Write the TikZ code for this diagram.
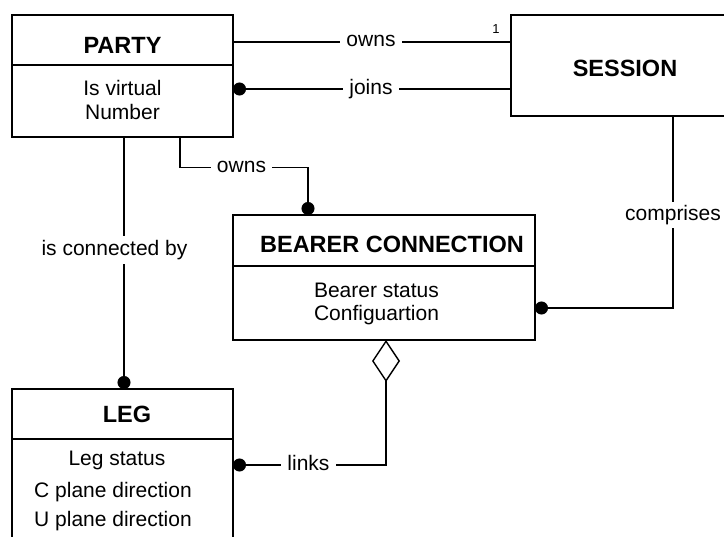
\documentclass[tikz,border=0pt]{standalone}
\usepackage{fontspec}
\setmainfont{Liberation Sans}
\usetikzlibrary{arrows.meta}
\begin{document}
\begin{tikzpicture}[x=1pt,y=-1pt,
  box/.style={draw, line width=1.5pt, inner sep=0pt, outer sep=0pt, anchor=north west},
  boxline/.style={line width=1.5pt},
  conn/.style={line width=1.4pt},
  dotend/.style={-{Circle[length=13pt,width=13pt]}},
  dotstart/.style={{Circle[length=13pt,width=13pt]}-},
  title/.style={anchor=base, inner sep=0pt, font=\fontsize{23.5pt}{27pt}\selectfont\bfseries},
  attr/.style={anchor=base, inner sep=0pt, font=\fontsize{21pt}{25pt}\selectfont},
  lbl/.style={anchor=base, fill=white, inner xsep=6pt, inner ysep=3pt, font=\fontsize{21pt}{25pt}\selectfont},
  mult/.style={anchor=base, inner sep=0pt, font=\fontsize{13pt}{15pt}\selectfont}
]
\path[use as bounding box] (0,0) rectangle (724,537);
\fill[white] (0,0) rectangle (724,537);
\clip (0,0) rectangle (724,537);

% boxes
\node[box, minimum width=221pt, minimum height=122pt] (party) at (12,15) {};
\node[box, minimum width=240pt, minimum height=101pt] (session) at (511,15) {};
\node[box, minimum width=302pt, minimum height=125pt] (bearer) at (233,215) {};
\node[box, minimum width=221pt, minimum height=170pt] (leg) at (12,389) {};

% dividers
\draw[boxline] (party.west |- 0,65) -- (party.east |- 0,65);
\draw[boxline] (bearer.west |- 0,266) -- (bearer.east |- 0,266);
\draw[boxline] (leg.west |- 0,439) -- (leg.east |- 0,439);

% texts
\node[title] (partyT) at (122.5,53.3) {PARTY};
\node[attr] (partyA) at (122.5,95.7) {Is virtual};
\node[attr] (partyB) at (122.5,119.3) {Number};
\node[title] (sessionT) at (625,76.7) {SESSION};
\node[title] (bearerT) at (392,252.7) {BEARER CONNECTION};
\node[attr] (bearerA) at (376.5,298) {Bearer status};
\node[attr] (bearerB) at (376.5,321) {Configuartion};
\node[title] (legT) at (127,422.7) {LEG};
\node[attr] (legA) at (117,466) {Leg status};
\node[attr] (legB) at (113,497.7) {C plane direction};
\node[attr] (legC) at (113,526.7) {U plane direction};

% connectors
\coordinate (o2a) at (180,167.7);
\coordinate (o2b) at (308,167.7);
\draw[conn] (party.east |- 0,42) -- (session.west |- 0,42);
\draw[conn, dotstart] (party.east |- 0,89) -- (session.west |- 0,89);
\draw[conn, dotend] (party.south -| o2a) -- (o2a) -- (o2b) -- (bearer.north -| o2b);
\draw[conn, dotend] (party.south -| 124,0) -- (leg.north -| 124,0);
\draw[conn, dotend] (session.south -| 673,0) |- (bearer.east |- 0,308);
\draw[conn, {Diamond[open,length=42pt,width=28pt]}-{Circle[length=13pt,width=13pt]}]
  (bearer.south -| 386,0) |- (leg.east |- 0,465);

% labels
\node[lbl] (l1) at (371,46.7) {owns};
\node[mult] (m1) at (496,33.3) {1};
\node[lbl] (l2) at (371,95) {joins};
\node[lbl] (l3) at (241.5,173) {owns};
\node[lbl, inner ysep=4pt] (l4) at (114.5,255.7) {is connected by};
\node[lbl, inner xsep=1pt] (l5) at (673,220.7) {comprises};
\node[lbl] (l6) at (308.5,470.5) {links};
\end{tikzpicture}
\end{document}
